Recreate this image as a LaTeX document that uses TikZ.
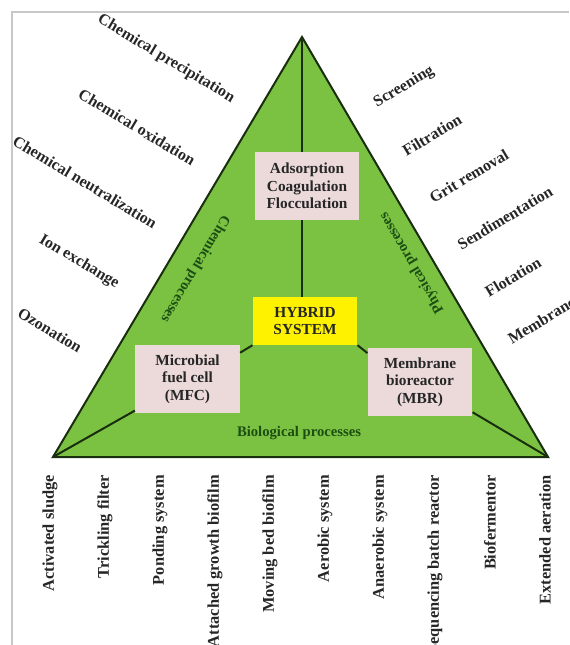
\documentclass[tikz,border=0pt]{standalone}
\usepackage{fontspec}
\setmainfont{Liberation Serif}
\usetikzlibrary{positioning,calc}

\definecolor{trigreen}{RGB}{124,194,66}
\definecolor{boxpink}{RGB}{236,218,218}
\definecolor{procgreen}{RGB}{28,78,20}
\definecolor{edgedark}{RGB}{25,45,15}
\definecolor{framegray}{RGB}{200,200,200}

\begin{document}
\begin{tikzpicture}[x=0.75pt,y=-0.75pt,
procbox/.style={fill=boxpink, text=black!85, align=center, inner sep=0pt, minimum width=78.5pt, minimum height=51pt, font=\fontsize{11.5}{13.2}\selectfont\bfseries},
hybbox/.style={procbox, fill=yellow, minimum height=36pt},
sidelabel/.style={inner sep=0pt, text=black!85, font=\fontsize{12}{14}\selectfont\bfseries},
baselabel/.style={sidelabel, rotate=90, anchor=east, font=\fontsize{12.3}{14}\selectfont\bfseries},
proclabel/.style={inner sep=0pt, text=procgreen, font=\fontsize{11}{13}\selectfont\bfseries},
link/.style={draw=edgedark, line width=1.5pt},
]
\useasboundingbox (0,0) rectangle (569,645);

% frame of the figure
\draw[framegray, line width=1.5pt] (12,645) -- (12,12) -- (569,12);

% triangle
\coordinate (apex) at (302,37);
\coordinate (bl)   at (53,457);
\coordinate (br)   at (548,457);
\filldraw[fill=trigreen, draw=edgedark, line width=1.5pt] (apex) -- (bl) -- (br) -- cycle;

% boxes
\node[procbox]  (ads) at (307,186)   {Adsorption\\Coagulation\\Flocculation};
\node[hybbox]   (hyb) at (305,321)   {HYBRID\\SYSTEM};
\node[procbox]  (mfc) at (187.5,379) {Microbial\\fuel cell\\(MFC)};
\node[procbox]  (mbr) at (420,382)   {Membrane\\bioreactor\\(MBR)};

\draw[link] (apex) -- (apex |- ads.north);
\draw[link] (ads.south -| apex) -- (hyb.north -| apex);
\draw[link] (hyb.south west) -- ([yshift=-6pt]mfc.north east);
\draw[link] (hyb.south east) -- ([yshift=-4pt]mbr.north west);
\draw[link] (bl) -- ([yshift=2pt]mfc.south west);
\draw[link] (br) -- ([yshift=3pt]mbr.south east);

% process names
\node[proclabel, rotate=-120.7] (chem) at (195,269) {Chemical processes};
\node[proclabel, rotate=120.4]  (phys) at (412,263) {Physical processes};
\node[proclabel]                (bio)  at (299,433) {Biological processes};

% chemical
\node[sidelabel, rotate=-31] (prec) at (166,59)  {Chemical precipitation};
\node[sidelabel, rotate=-31] (oxid) at (137,127) {Chemical oxidation};
\node[sidelabel, rotate=-31] (neut) at (85,182)  {Chemical neutralization};
\node[sidelabel, rotate=-31] (ion)  at (79,262)  {Ion exchange};
\node[sidelabel, rotate=-31] (ozon) at (50,330)  {Ozonation};

% physical
\node[sidelabel, rotate=31] (scr)  at (404,87)  {Screening};
\node[sidelabel, rotate=31] (filt) at (432,135) {Filtration};
\node[sidelabel, rotate=31] (grit) at (469,176) {Grit removal};
\node[sidelabel, rotate=31] (sed)  at (505,218) {Sendimentation};
\node[sidelabel, rotate=31] (flot) at (513,277) {Flotation};
\node[sidelabel, rotate=31, anchor=south west] (memb) at (512,345) {Membrane};

% biological
\node[baselabel] (act)  at (50,475)  {Activated sludge};
\node[baselabel] (tric) at (105,475) {Trickling filter};
\node[baselabel] (pond) at (160,475) {Ponding system};
\node[baselabel] (att)  at (215,475) {Attached growth biofilm};
\node[baselabel] (mov)  at (270,475) {Moving bed biofilm};
\node[baselabel] (aer)  at (325,475) {Aerobic system};
\node[baselabel] (ana)  at (380,475) {Anaerobic system};
\node[baselabel] (seq)  at (435,475) {Sequencing batch reactor};
\node[baselabel] (biof) at (490,475) {Biofermentor};
\node[baselabel] (ext)  at (545,475) {Extended aeration};
\end{tikzpicture}
\end{document}
